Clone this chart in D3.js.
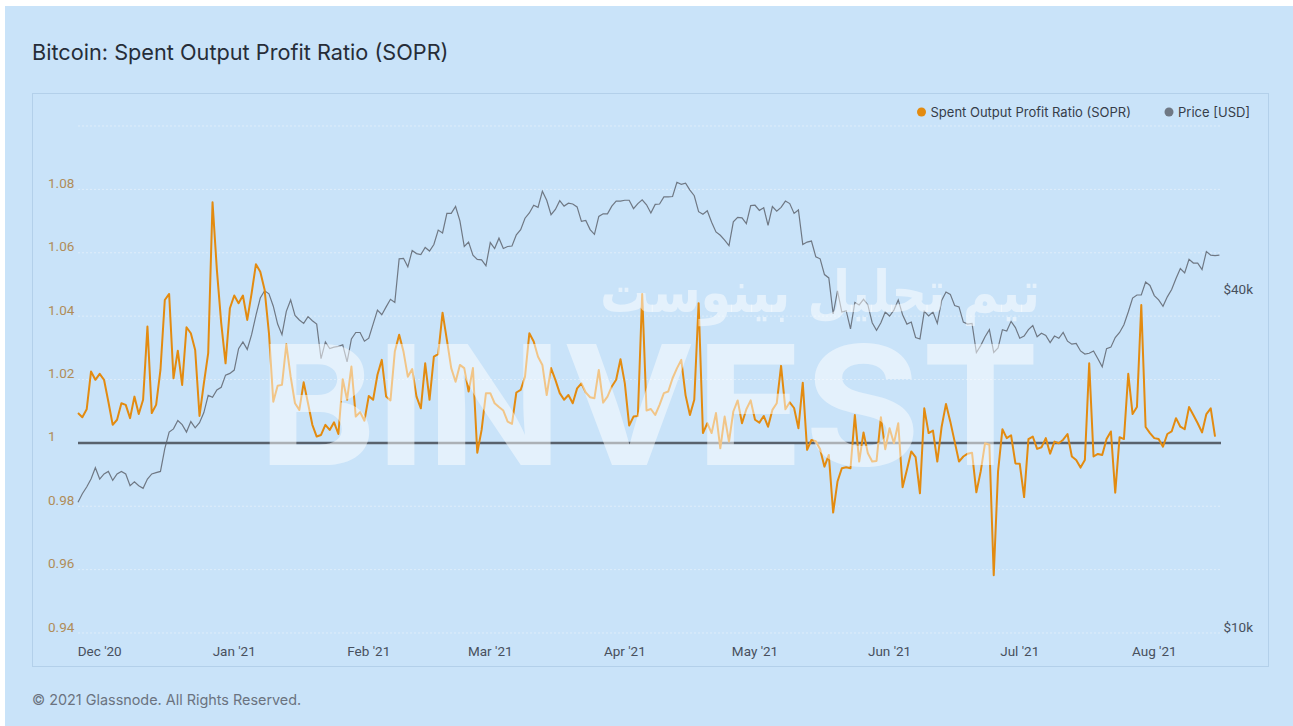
<!DOCTYPE html>
<html>
<head>
<meta charset="utf-8">
<title>Bitcoin: Spent Output Profit Ratio (SOPR)</title>
<script src="https://d3js.org/d3.v7.min.js"></script>
<style>
  body { margin: 0; background: #fff; }
  svg { display: block; }
</style>
</head>
<body>
<div id="chart"></div>

<script type="text/javascript">
// daily series, first day 2020-11-26
var startDate = new Date(2020, 10, 26);

// SOPR, one array per month
var soprNov = [1.0094, 1.0081, 1.0106, 1.0225, 1.0199];
var soprDec = [1.0218, 1.0199, 1.0130, 1.0057, 1.0073, 1.0125, 1.0120, 1.0078, 1.0146, 1.0091, 1.0136, 1.0367, 1.0094, 1.0120, 1.0230, 1.0451, 1.0470, 1.0204, 1.0291, 1.0183, 1.0365, 1.0346, 1.0293, 1.0085, 1.0188, 1.0283, 1.0759, 1.0546, 1.0378, 1.0251, 1.0425];
var soprJan = [1.0465, 1.0441, 1.0465, 1.0388, 1.0472, 1.0564, 1.0540, 1.0483, 1.0346, 1.0130, 1.0180, 1.0183, 1.0311, 1.0209, 1.0125, 1.0104, 1.0191, 1.0125, 1.0057, 1.0020, 1.0025, 1.0057, 1.0041, 1.0065, 1.0028, 1.0201, 1.0136, 1.0241, 1.0083, 1.0097, 1.0070];
var soprFeb = [1.0148, 1.0136, 1.0215, 1.0262, 1.0146, 1.0134, 1.0288, 1.0341, 1.0288, 1.0209, 1.0233, 1.0146, 1.0109, 1.0251, 1.0136, 1.0272, 1.0280, 1.0411, 1.0325, 1.0236, 1.0193, 1.0246, 1.0236, 1.0162, 1.0236, 0.9969, 1.0041, 1.0157];
var soprMar = [1.0157, 1.0125, 1.0113, 1.0102, 1.0067, 1.0060, 1.0159, 1.0167, 1.0209, 1.0346, 1.0320, 1.0272, 1.0246, 1.0151, 1.0236, 1.0199, 1.0157, 1.0136, 1.0151, 1.0125, 1.0172, 1.0188, 1.0159, 1.0144, 1.0141, 1.0230, 1.0127, 1.0146, 1.0178, 1.0199, 1.0264];
var soprApr = [1.0188, 1.0055, 1.0083, 1.0085, 1.0470, 1.0102, 1.0107, 1.0088, 1.0120, 1.0157, 1.0162, 1.0204, 1.0235, 1.0262, 1.0150, 1.0088, 1.0136, 1.0441, 1.0031, 1.0062, 1.0031, 1.0094, 0.9983, 1.0083, 1.0004, 1.0099, 1.0134, 1.0062, 1.0106, 1.0134];
var soprMay = [1.0073, 1.0064, 1.0085, 1.0051, 1.0104, 1.0125, 1.0243, 1.0106, 1.0128, 1.0110, 1.0046, 1.0190, 0.9978, 1.0009, 1.0005, 0.9980, 0.9925, 0.9962, 0.9780, 0.9878, 0.9920, 0.9923, 0.9920, 1.0088, 0.9941, 1.0033, 0.9967, 0.9941, 0.9943, 1.0081, 0.9980];
var soprJun = [1.0046, 0.9999, 1.0062, 0.9860, 0.9915, 0.9973, 0.9955, 0.9841, 1.0109, 1.0031, 1.0039, 0.9941, 1.0051, 1.0123, 1.0067, 1.0004, 0.9941, 0.9957, 0.9966, 0.9969, 0.9844, 0.9910, 0.9999, 0.9994, 0.9582, 0.9910, 1.0043, 1.0015, 1.0024, 0.9935];
var soprJul = [0.9934, 0.9829, 1.0012, 1.0020, 0.9981, 0.9986, 1.0015, 0.9966, 1.0004, 0.9999, 1.0010, 1.0028, 0.9957, 0.9946, 0.9922, 0.9946, 1.0251, 0.9957, 0.9965, 0.9962, 1.0012, 1.0036, 0.9843, 1.0018, 1.0012, 1.0218, 1.0091, 1.0113, 1.0435, 1.0050, 1.0031];
var soprAug = [1.0015, 1.0012, 0.9988, 1.0028, 1.0036, 1.0078, 1.0051, 1.0043, 1.0113, 1.0088, 1.0062, 1.0033, 1.0091, 1.0109, 1.0020];

// price in thousands of USD, one array per month
var priceNov = [17.1, 17.7, 18.2, 18.8, 19.7];
var priceDec = [18.8, 19.2, 19.4, 18.7, 19.2, 19.4, 19.2, 18.3, 18.6, 18.3, 18.1, 18.8, 19.2, 19.3, 19.4, 21.3, 22.8, 23.1, 23.9, 23.5, 22.8, 23.8, 23.2, 23.7, 24.7, 26.5, 26.3, 27.1, 27.4, 28.8, 29.0];
var priceJan = [29.4, 32.1, 33.0, 32.0, 34.0, 36.8, 39.5, 40.7, 40.2, 38.2, 35.5, 34.0, 37.4, 39.2, 36.8, 36.1, 35.6, 36.6, 36.0, 35.5, 30.8, 33.0, 32.1, 32.3, 32.4, 32.6, 30.4, 33.4, 34.3, 34.3, 33.1];
var priceFeb = [33.5, 35.5, 37.6, 36.9, 38.1, 39.3, 38.8, 46.4, 46.5, 44.9, 48.0, 47.4, 47.2, 48.6, 47.9, 49.2, 52.2, 51.6, 55.9, 55.9, 57.5, 54.2, 48.8, 49.7, 47.1, 46.3, 46.2, 45.1];
var priceMar = [49.6, 48.4, 50.5, 48.4, 48.8, 48.9, 51.2, 52.3, 54.8, 56.0, 57.8, 57.3, 61.2, 59.0, 55.6, 56.8, 58.9, 57.6, 58.3, 58.1, 57.4, 54.1, 54.3, 52.3, 51.3, 55.2, 55.8, 55.8, 57.6, 58.8, 58.8];
var priceApr = [59.0, 59.0, 57.0, 58.2, 59.1, 57.9, 56.0, 58.0, 58.1, 59.8, 59.8, 59.9, 63.5, 63.0, 63.3, 61.5, 60.1, 56.3, 55.7, 56.5, 53.9, 51.8, 51.1, 50.1, 49.0, 54.0, 55.0, 54.9, 53.6, 57.7];
var priceMay = [57.8, 56.6, 57.2, 53.2, 57.5, 56.4, 57.3, 58.8, 58.2, 55.9, 56.7, 49.2, 49.7, 49.9, 46.8, 46.4, 43.5, 42.9, 37.0, 40.7, 37.3, 37.5, 34.8, 38.8, 38.4, 39.3, 38.4, 35.7, 34.6, 35.7, 37.3];
var priceJun = [36.7, 37.6, 39.2, 36.9, 35.5, 35.8, 33.6, 33.4, 37.4, 36.7, 37.3, 35.6, 39.1, 40.5, 40.1, 38.3, 38.1, 35.8, 35.5, 35.6, 31.6, 32.5, 33.7, 34.7, 31.6, 32.2, 34.7, 34.5, 35.9, 35.0];
var priceJul = [33.5, 33.8, 34.7, 35.3, 33.7, 34.2, 33.9, 32.9, 33.8, 33.5, 34.3, 33.1, 32.7, 32.8, 31.8, 31.4, 31.5, 31.8, 30.8, 29.8, 32.1, 32.3, 33.6, 34.3, 35.4, 37.3, 39.5, 40.0, 40.0, 42.2, 41.6];
var priceAug = [39.9, 39.2, 38.2, 39.7, 40.9, 42.8, 44.6, 43.8, 46.3, 45.6, 45.6, 44.4, 47.8, 47.1, 47.0, 47.1];

var soprTicks = [0.94, 0.96, 0.98, 1, 1.02, 1.04, 1.06, 1.08];
var soprGrid = [0.94, 0.96, 0.98, 1, 1.02, 1.04, 1.06, 1.08, 1.1];
var priceTicks = [10000, 40000];
var monthTicks = ["2020-12-01", "2021-01-01", "2021-02-01", "2021-03-01", "2021-04-01", "2021-05-01", "2021-06-01", "2021-07-01", "2021-08-01"];

var sopr = [].concat(soprNov, soprDec, soprJan, soprFeb, soprMar, soprApr, soprMay, soprJun, soprJul, soprAug);
var price = [].concat(priceNov, priceDec, priceJan, priceFeb, priceMar, priceApr, priceMay, priceJun, priceJul, priceAug);

var soprData = sopr.map(function(v, i) { return { date: d3.timeDay.offset(startDate, i), v: v }; });
var priceData = price.map(function(v, i) { return { date: d3.timeDay.offset(startDate, i), v: v * 1000 }; });

var width = 1293, height = 726;
// plot box (don't use "top" as a global name, it's window.top)
var plotL = 78, plotR = 1219.4, plotT = 126, plotB = 633, gridR = 1221;

var svg = d3.select("#chart").append("svg")
  .attr("width", width)
  .attr("height", height);

// page background and chart panel
svg.append("rect").attr("x", 5).attr("y", 6).attr("width", width - 5).attr("height", height - 6)
  .attr("fill", "#c9e3f9");
svg.append("rect").attr("x", 32.5).attr("y", 93.5).attr("width", 1236).attr("height", 573)
  .attr("fill", "#c9e3f9").attr("stroke", "#b3d0ea").attr("stroke-width", 1);

svg.append("text")
  .attr("x", 32).attr("y", 60)
  .style("font-family", "Inter, 'Noto Sans', sans-serif")
  .style("font-size", "21.7px")
  .style("fill", "#262d38")
  .text("Bitcoin: Spent Output Profit Ratio (SOPR)");

var x = d3.scaleTime()
  .domain([startDate, d3.timeDay.offset(startDate, price.length - 1)])
  .range([plotL, plotR]);
var y = d3.scaleLinear().domain([0.94, 1.1]).range([plotB, plotT]);
var yPrice = d3.scaleLog().domain([10000, 80000]).range([plotB, plotT]);

// grid
svg.append("g").selectAll("line").data(soprGrid).enter().append("line")
  .attr("x1", plotL).attr("x2", gridR)
  .attr("y1", function(d) { return y(d); })
  .attr("y2", function(d) { return y(d); })
  .attr("stroke", "#deedfa")
  .attr("stroke-width", 1)
  .attr("stroke-dasharray", "2,2");

// left axis labels
svg.append("g").selectAll("text").data(soprTicks).enter().append("text")
  .attr("x", 48)
  .attr("y", function(d) { return y(d) - 1.5; })
  .style("font-family", "Roboto, sans-serif")
  .style("font-size", "13.5px")
  .style("fill", "#b08c58")
  .text(function(d) { return String(+d.toFixed(2)); });

// right axis labels
svg.append("g").selectAll("text").data(priceTicks).enter().append("text")
  .attr("x", 1253)
  .attr("y", function(d) { return yPrice(d) - 1.5; })
  .attr("text-anchor", "end")
  .style("font-family", "Roboto, sans-serif")
  .style("font-size", "13.5px")
  .style("fill", "#48505d")
  .text(function(d) { return "$" + (d / 1000) + "k"; });

// x axis labels
var parseDay = d3.timeParse("%Y-%m-%d");
svg.append("g").selectAll("text").data(monthTicks).enter().append("text")
  .attr("x", function(d) { return x(parseDay(d)); })
  .attr("y", 656)
  .attr("text-anchor", "middle")
  .style("font-family", "Roboto, sans-serif")
  .style("font-size", "13.5px")
  .style("fill", "#48505d")
  .text(function(d) { return d3.timeFormat("%b '%y")(parseDay(d)); });

// price line
svg.append("path").datum(priceData)
  .attr("fill", "none")
  .attr("stroke", "#6f7884")
  .attr("stroke-width", 1.2)
  .attr("d", d3.line().x(function(d) { return x(d.date); }).y(function(d) { return yPrice(d.v); }));

// baseline at 1
svg.append("line")
  .attr("x1", plotL).attr("x2", gridR)
  .attr("y1", y(1)).attr("y2", y(1))
  .attr("stroke", "#59626d")
  .attr("stroke-width", 2.5);

// SOPR line
svg.append("path").datum(soprData)
  .attr("fill", "none")
  .attr("stroke", "#e38b10")
  .attr("stroke-width", 2)
  .attr("stroke-linejoin", "round")
  .attr("d", d3.line().x(function(d) { return x(d.date); }).y(function(d) { return y(d.v); }));

// legend
var legend = [
  { name: "Spent Output Profit Ratio (SOPR)", color: "#e38b10", x: 921.5 },
  { name: "Price [USD]", color: "#6f7884", x: 1169 }
];
var lg = svg.append("g").selectAll("g").data(legend).enter().append("g");
lg.append("circle")
  .attr("cx", function(d) { return d.x; }).attr("cy", 112).attr("r", 4.5)
  .attr("fill", function(d) { return d.color; });
lg.append("text")
  .attr("x", function(d) { return d.x + 9; }).attr("y", 116.5)
  .style("font-family", "Inter, 'Noto Sans', sans-serif")
  .style("font-size", "13px")
  .style("fill", "#363d49")
  .text(function(d) { return d.name; });

// watermark, drawn over the lines
svg.append("text")
  .attr("x", 600).attr("y", 312)
  .attr("textLength", 440).attr("lengthAdjust", "spacingAndGlyphs")
  .style("font-family", "'DejaVu Sans', sans-serif")
  .style("font-weight", "bold")
  .style("font-size", "58px")
  .style("fill", "#ffffff")
  .style("fill-opacity", 0.5)
  .text("تیم تحلیل بینوست");
svg.append("text")
  .attr("x", 258).attr("y", 465)
  .attr("textLength", 782).attr("lengthAdjust", "spacingAndGlyphs")
  .style("font-family", "Inter, 'Noto Sans', sans-serif")
  .style("font-weight", "bold")
  .style("font-size", "166px")
  .style("fill", "#ffffff")
  .style("fill-opacity", 0.5)
  .text("BINVEST");

// footer
svg.append("text")
  .attr("x", 32).attr("y", 705)
  .style("font-family", "Inter, 'Noto Sans', sans-serif")
  .style("font-size", "14.4px")
  .style("fill", "#6b7380")
  .text("© 2021 Glassnode. All Rights Reserved.");
</script>
</body>
</html>
